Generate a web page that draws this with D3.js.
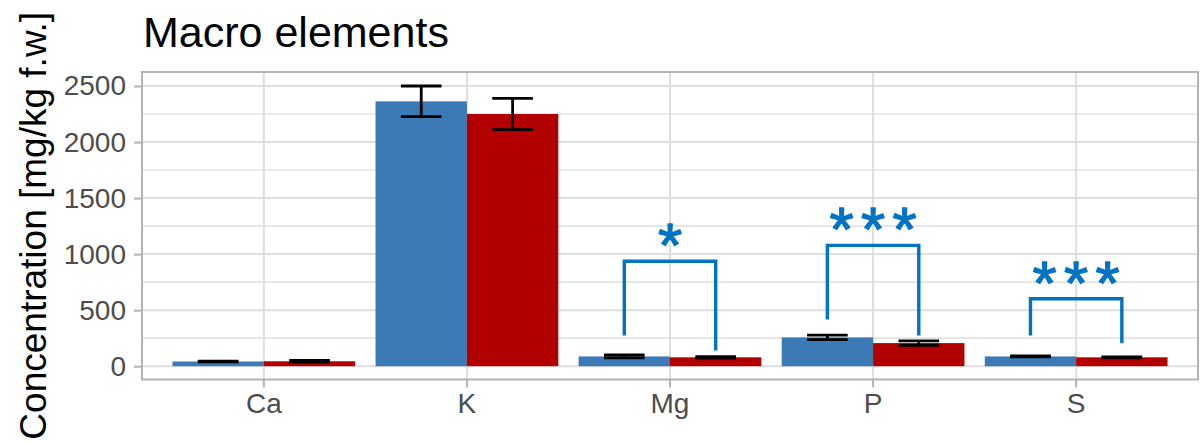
<!DOCTYPE html>
<html>
<head>
<meta charset="utf-8">
<script src="https://cdn.jsdelivr.net/npm/d3@7"></script>
<style>
  html, body { margin: 0; padding: 0; background: #fff; }
  svg { display: block; }
</style>
</head>
<body>
<div id="chart"></div>
<script>
// Macro element concentrations (mg/kg fresh weight), two groups per element
const elements = ["Ca", "K", "Mg", "P", "S"];
const groups = ["group1", "group2"];
const meanGroup1 = [42, 2363, 87, 257, 87];
const sdGroup1   = [4, 137, 13, 20, 4];
const meanGroup2 = [44, 2250, 79, 206, 79];
const sdGroup2   = [7, 140, 7, 19, 4];
const yTicks = [0, 500, 1000, 1500, 2000, 2500];

// Significance brackets: element, bracket height, left/right leg ends, label
const sigElements = ["Mg", "P", "S"];
const sigTop      = [937, 1078, 602];
const sigLeftEnd  = [274, 417, 274];
const sigRightEnd = [141, 274, 205];
const sigLabels   = ["*", "***", "***"];

const W = 1203, H = 442;
const panel = { left: 142, right: 1198, top: 72, bottom: 379.5 };
const colors = { group1: "#3C7AB6", group2: "#B20000" };
const sigColor = "#0073C2";
const font = "'Liberation Sans', Arial, sans-serif";

const svg = d3.select("#chart").append("svg")
  .attr("width", W).attr("height", H)
  .style("font-family", font);

const x = d3.scaleBand()
  .domain(elements)
  .range([panel.left, panel.right])
  .paddingInner(0)
  .paddingOuter(0.1);

const xg = d3.scaleBand()
  .domain(groups)
  .range([x.bandwidth() * 0.05, x.bandwidth() * 0.95]);

const y = d3.scaleLinear()
  .domain([-118.75, 2625])
  .range([panel.bottom, panel.top]);

// Grid
const grid = svg.append("g");
const minorTicks = d3.range(250, 2625, 500);
grid.selectAll("line.minor").data(minorTicks).join("line")
  .attr("x1", panel.left).attr("x2", panel.right)
  .attr("y1", d => y(d)).attr("y2", d => y(d))
  .attr("stroke", "#E3E3E3").attr("stroke-width", 1.6);
grid.selectAll("line.major").data(yTicks).join("line")
  .attr("x1", panel.left).attr("x2", panel.right)
  .attr("y1", d => y(d)).attr("y2", d => y(d))
  .attr("stroke", "#DEDEDE").attr("stroke-width", 2);
grid.selectAll("line.vert").data(elements).join("line")
  .attr("x1", d => x(d) + x.bandwidth() / 2).attr("x2", d => x(d) + x.bandwidth() / 2)
  .attr("y1", panel.top).attr("y2", panel.bottom)
  .attr("stroke", "#DEDEDE").attr("stroke-width", 2);

// Bars
const rows = [];
elements.forEach((e, i) => {
  rows.push({ el: e, g: "group1", mean: meanGroup1[i], sd: sdGroup1[i] });
  rows.push({ el: e, g: "group2", mean: meanGroup2[i], sd: sdGroup2[i] });
});

svg.append("g").selectAll("rect").data(rows).join("rect")
  .attr("x", d => x(d.el) + xg(d.g))
  .attr("width", xg.bandwidth())
  .attr("y", d => y(d.mean))
  .attr("height", d => y(0) - y(d.mean))
  .attr("fill", d => colors[d.g]);

// Error bars
const capHalf = x.bandwidth() * 0.1;
const eb = svg.append("g").attr("stroke", "#000").attr("stroke-width", 2.8).attr("fill", "none");
rows.forEach(d => {
  const cx = x(d.el) + xg(d.g) + xg.bandwidth() / 2;
  const yt = y(d.mean + d.sd), yb = y(d.mean - d.sd);
  eb.append("line").attr("x1", cx).attr("x2", cx).attr("y1", yt).attr("y2", yb);
  eb.append("line").attr("x1", cx - capHalf).attr("x2", cx + capHalf).attr("y1", yt).attr("y2", yt);
  eb.append("line").attr("x1", cx - capHalf).attr("x2", cx + capHalf).attr("y1", yb).attr("y2", yb);
});

// Significance brackets with star labels
const sig = svg.append("g");
sigElements.forEach((e, i) => {
  const xl = x(e) + xg("group1") + xg.bandwidth() / 2;
  const xr = x(e) + xg("group2") + xg.bandwidth() / 2;
  const path = d3.path();
  path.moveTo(xl, y(sigLeftEnd[i]));
  path.lineTo(xl, y(sigTop[i]));
  path.lineTo(xr, y(sigTop[i]));
  path.lineTo(xr, y(sigRightEnd[i]));
  sig.append("path").attr("d", path.toString())
    .attr("fill", "none").attr("stroke", sigColor).attr("stroke-width", 3.4)
    .attr("stroke-linejoin", "miter");
  const chars = sigLabels[i].split("");
  const mid = (xl + xr) / 2;
  const pitch = 31.5;
  chars.forEach((c, k) => {
    sig.append("text")
      .attr("x", mid + (k - (chars.length - 1) / 2) * pitch)
      .attr("y", y(sigTop[i]) + 5)
      .attr("text-anchor", "middle")
      .attr("font-family", font)
      .attr("font-size", 62)
      .attr("fill", sigColor)
      .attr("stroke", sigColor)
      .attr("stroke-width", 1.3)
      .attr("stroke-linejoin", "round")
      .text(c);
  });
});

// Panel border
svg.append("rect")
  .attr("x", panel.left).attr("y", panel.top)
  .attr("width", panel.right - panel.left).attr("height", panel.bottom - panel.top)
  .attr("fill", "none").attr("stroke", "#B3B3B3").attr("stroke-width", 2);

// Y axis
const yAxis = svg.append("g").attr("transform", `translate(${panel.left},0)`)
  .call(d3.axisLeft(y).tickValues(yTicks).tickFormat(d3.format("d")).tickSize(8).tickPadding(8));
yAxis.select(".domain").remove();
yAxis.selectAll(".tick line").attr("stroke", "#B3B3B3").attr("stroke-width", 2);
yAxis.selectAll(".tick text").attr("fill", "#4D4D4D")
  .style("font-size", "28px").style("font-family", font);

// X axis
const xAxis = svg.append("g").attr("transform", `translate(0,${panel.bottom})`)
  .call(d3.axisBottom(x).tickSize(8).tickPadding(6));
xAxis.select(".domain").remove();
xAxis.selectAll(".tick line").attr("stroke", "#B3B3B3").attr("stroke-width", 2);
xAxis.selectAll(".tick text").attr("fill", "#4D4D4D")
  .style("font-size", "28px").style("font-family", font);

// Titles
svg.append("text")
  .attr("x", 143).attr("y", 47)
  .attr("font-size", 43).attr("fill", "#000")
  .text("Macro elements");

svg.append("text")
  .attr("transform", `translate(46,${(panel.top + panel.bottom) / 2}) rotate(-90)`)
  .attr("text-anchor", "middle")
  .attr("font-size", 37).attr("fill", "#000")
  .text("Concentration [mg/kg f.w.]");
</script>
</body>
</html>
